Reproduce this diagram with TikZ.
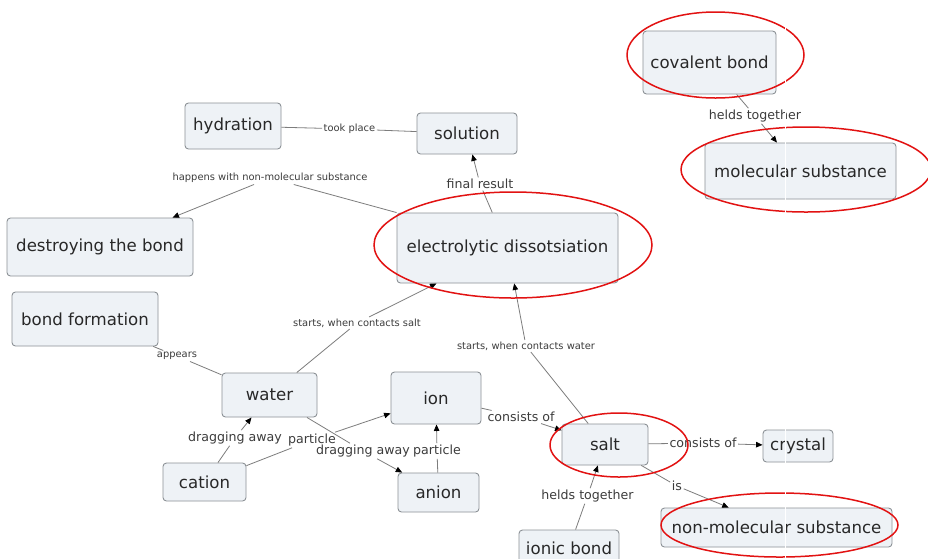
\documentclass[tikz,border=0pt]{standalone}
\usepackage{fontspec}
\setmainfont{DejaVu Sans}
\usetikzlibrary{arrows.meta}
\definecolor{boxfill}{RGB}{238,242,246}
\definecolor{boxline}{RGB}{140,145,150}
\definecolor{boxtext}{RGB}{40,40,40}
\definecolor{labtext}{RGB}{60,60,60}
\definecolor{connline}{RGB}{125,125,125}
\definecolor{markred}{RGB}{226,18,18}
\tikzset{
  concept/.style={draw=boxline, fill=boxfill, line width=0.9pt, rounded corners=3.5pt,
    text=boxtext, font=\fontsize{16.6}{19}\selectfont, inner sep=2pt, align=center},
  labs/.style={text=labtext, font=\fontsize{9.9}{12}\selectfont, inner sep=1.5pt},
  labm/.style={text=labtext, font=\fontsize{12.6}{15}\selectfont, inner sep=1.5pt},
  conn/.style={draw=connline, line width=0.8pt},
  arr/.style={-{Triangle[length=6.5pt,width=5.5pt,color=black]}},
  redmark/.style={draw=markred, line width=1.5pt}
}
\begin{document}
\begin{tikzpicture}[x=1pt,y=-1pt]
\useasboundingbox[fill=white] (0,0) rectangle (928,558);
% concepts
\node[concept, minimum width=133pt, minimum height=63pt] (cov) at (709.5,62.5) {covalent bond};
\node[concept, minimum width=191pt, minimum height=56pt] (mol) at (800.5,171) {molecular substance};
\node[concept, minimum width=96pt, minimum height=46pt] (hyd) at (233,126) {hydration};
\node[concept, minimum width=100pt, minimum height=41pt] (sol) at (467,133.5) {solution};
\node[concept, minimum width=186pt, minimum height=58pt] (des) at (100,247) {destroying the bond};
\node[concept, minimum width=221pt, minimum height=70pt] (ed) at (507.5,248) {electrolytic dissotsiation};
\node[concept, minimum width=146pt, minimum height=54pt] (bf) at (85,319) {bond formation};
\node[concept, minimum width=95pt, minimum height=44pt] (wat) at (269.5,395) {water};
\node[concept, minimum width=90pt, minimum height=52pt] (ion) at (436,398) {ion};
\node[concept, minimum width=83pt, minimum height=38pt] (cat) at (204.5,482) {cation};
\node[concept, minimum width=81pt, minimum height=39pt] (ani) at (438.5,492.5) {anion};
\node[concept, minimum width=86pt, minimum height=41pt] (salt) at (605,444.5) {salt};
\node[concept, minimum width=70pt, minimum height=32pt] (cry) at (798,446) {crystal};
\node[concept, minimum width=231pt, minimum height=39pt] (nms) at (776.5,527.5) {non-molecular substance};
\node[concept, minimum width=100pt, minimum height=36pt] (ib) at (569,548) {ionic bond};
% link labels
\node[labs] (ltook) at (349.5,129) {took place};
\node[labm] (lfinal) at (480,184) {final result};
\node[labs] (lhap) at (270,178) {happens with non-molecular substance};
\node[labs] (lsalt) at (357,323) {starts, when contacts salt};
\node[labs] (lwater) at (526,346) {starts, when contacts water};
\node[labs] (lapp) at (177,356) {appears};
\node[labm] (ldrag1) at (235,438) {dragging away};
\node[labm] (lpart1) at (312,440) {particle};
\node[labm] (ldrag2) at (363,451) {dragging away};
\node[labm] (lpart2) at (437,451) {particle};
\node[labm] (lcons1) at (521,417) {consists of};
\node[labm] (lcons2) at (703,443) {consists of};
\node[labm] (lis) at (677,486) {is};
\node[labm] (lheld1) at (587.5,496) {helds together};
\node[labm] (lheld2) at (755,116) {helds together};
% connectors
\draw[conn] (hyd) -- (ltook); \draw[conn] (ltook) -- (sol);
\draw[conn] (ed) -- (lfinal); \draw[conn,arr] (lfinal) -- (sol);
\draw[conn] (ed.north west) -- (lhap); \draw[conn,arr] (lhap) -- (des);
\draw[conn] (wat) -- (lsalt); \draw[conn,arr] (lsalt) -- (ed);
\draw[conn] (salt) -- (lwater); \draw[conn,arr] (lwater) -- (ed);
\draw[conn] (wat) -- (lapp); \draw[conn] (lapp) -- (bf);
\draw[conn] (cat) -- (ldrag1); \draw[conn,arr] (ldrag1) -- (wat);
\draw[conn] (cat) -- (lpart1); \draw[conn,arr] (lpart1) -- (ion);
\draw[conn] (wat) -- (ldrag2); \draw[conn,arr] (ldrag2) -- (ani);
\draw[conn] (ani) -- (lpart2); \draw[conn,arr] (lpart2) -- (ion);
\draw[conn] (ion) -- (lcons1); \draw[conn,arr] (lcons1) -- (salt);
\draw[conn] (salt) -- (lcons2); \draw[conn,arr] (lcons2) -- (cry);
\draw[conn] (salt) -- (lis); \draw[conn,arr] (lis) -- (nms);
\draw[conn] (ib) -- (lheld1); \draw[conn,arr] (lheld1) -- (salt);
\draw[conn] (cov) -- (lheld2); \draw[conn,arr] (lheld2) -- (mol);
% red marks
\draw[redmark] (715.5,55) ellipse [x radius=88.5pt, y radius=43pt];
\draw[redmark] (806,169.5) ellipse [x radius=125pt, y radius=42.5pt];
\draw[redmark] (513,245) ellipse [x radius=139pt, y radius=53pt];
\draw[redmark] (619,445) ellipse [x radius=69pt, y radius=32pt];
\draw[redmark] (779.5,525) ellipse [x radius=118.5pt, y radius=32pt];
% scan artefact
\draw[white, line width=1.2pt] (785.5,0) -- (785.5,558);
\end{tikzpicture}
\end{document}
